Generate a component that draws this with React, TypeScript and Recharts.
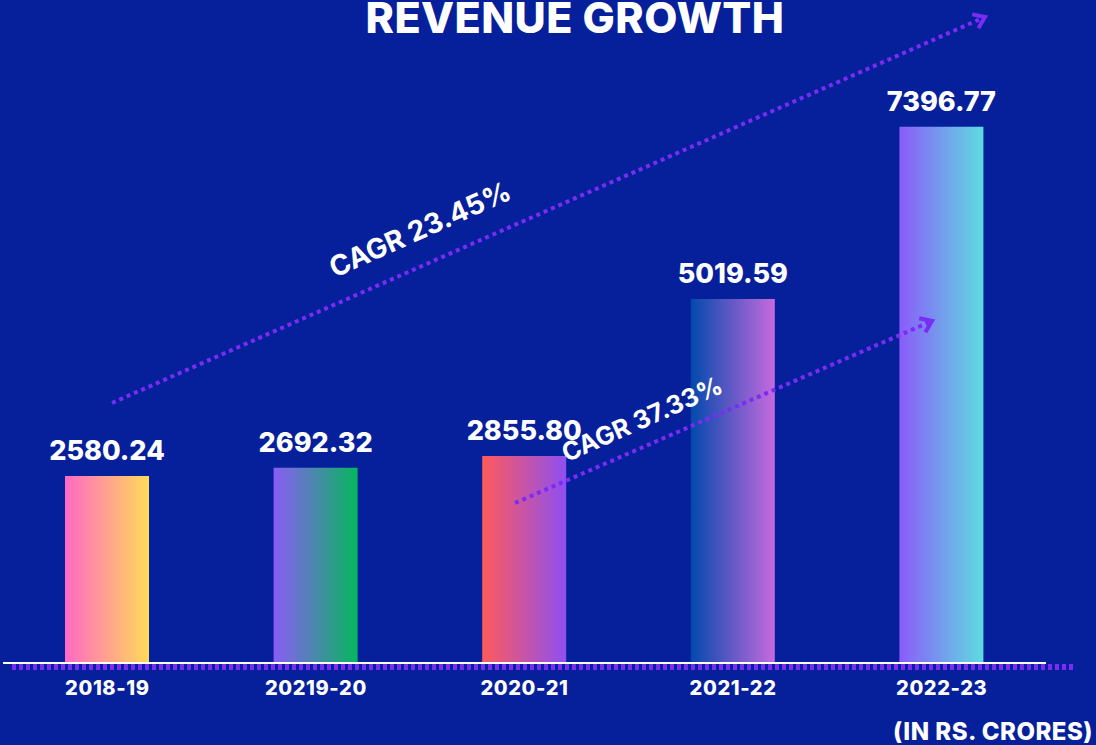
import { BarChart, Bar, XAxis, YAxis, Cell, LabelList } from 'recharts'

const years = ['2018-19', '20219-20', '2020-21', '2021-22', '2022-23']
const revenue = [2580.24, 2692.32, 2855.8, 5019.59, 7396.77]

// left → right colour stops of each bar
const gradFrom = ['#ff69c4', '#8b5cf6', '#ff5a5a', '#0349ad', '#8a5cfa']
const gradTo = ['#ffdb58', '#05b75d', '#8e4ff2', '#c66ade', '#5edce0']

const cagrLabels = ['CAGR 23.45%', 'CAGR 37.33%']

const BG = '#05209a'
const ARROW = '#7b2cf3'
const FONT = 'Inter, "Open Sans", sans-serif'

const data = years.map((year, i) => ({ year, value: revenue[i] }))

function Arrow({ x1, y1, x2, y2 }: { x1: number; y1: number; x2: number; y2: number }) {
  const a = Math.atan2(y2 - y1, x2 - x1)
  const len = 13
  const p1 = [x2 - len * Math.cos(a - 0.62), y2 - len * Math.sin(a - 0.62)]
  const p2 = [x2 - len * Math.cos(a + 0.62), y2 - len * Math.sin(a + 0.62)]
  return (
    <g>
      <line x1={x1} y1={y1} x2={x2 - 4 * Math.cos(a)} y2={y2 - 4 * Math.sin(a)} stroke={ARROW} strokeWidth={4} strokeDasharray="4 4" />
      <polyline points={`${p1[0]},${p1[1]} ${x2},${y2} ${p2[0]},${p2[1]}`} fill="none" stroke={ARROW} strokeWidth={4} strokeLinejoin="miter" />
    </g>
  )
}

export default function App() {
  return (
    <div style={{ position: 'absolute', left: 0, top: 0, width: 1096, height: 745, background: BG, overflow: 'hidden', fontFamily: FONT }}>
      <BarChart width={1096} height={745} data={data} margin={{ top: 83, right: 50, bottom: 52, left: 3 }}>
        <defs>
          {gradFrom.map((c, i) => (
            <linearGradient key={i} id={`bar-${i}`} x1="0" y1="0" x2="1" y2="0">
              <stop offset="0%" stopColor={c} />
              <stop offset="100%" stopColor={gradTo[i]} />
            </linearGradient>
          ))}
        </defs>
        <XAxis
          dataKey="year"
          axisLine={{ stroke: '#ffffff', strokeWidth: 2 }}
          tickLine={false}
          tickMargin={12}
          tick={{ fill: '#ffffff', fontSize: 20, fontWeight: 800, fontFamily: FONT, letterSpacing: 0.6 }}
        />
        <YAxis hide domain={[0, 8000]} />
        <Bar dataKey="value" barSize={84} isAnimationActive={false}>
          {data.map((_, i) => (
            <Cell key={`cell-${i}`} fill={`url(#bar-${i})`} />
          ))}
          <LabelList
            dataKey="value"
            position="top"
            offset={16}
            formatter={(v: any) => Number(v).toFixed(2)}
            style={{ fill: '#ffffff', fontSize: 27, fontWeight: 800, fontFamily: FONT }}
          />
        </Bar>
      </BarChart>

      <svg width={1096} height={745} style={{ position: 'absolute', left: 0, top: 0, pointerEvents: 'none' }}>
        <text x={575} y={33} textAnchor="middle" fill="#ffffff" fontSize={43} fontWeight={800} fontFamily={FONT} letterSpacing={0.4}>
          REVENUE GROWTH
        </text>
        <line x1={12} y1={667} x2={1076} y2={667} stroke={ARROW} strokeWidth={6} strokeDasharray="4 3" />
        <Arrow x1={112} y1={403} x2={985} y2={17} />
        <Arrow x1={515} y1={503} x2={932} y2={321} />
        <text x={420} y={239} textAnchor="middle" fill="#ffffff" fontSize={28} fontWeight={700} fontFamily={FONT} transform="rotate(-24 420 229)">
          {cagrLabels[0]}
        </text>
        <text x={642} y={428} textAnchor="middle" fill="#ffffff" fontSize={25.5} fontWeight={700} fontFamily={FONT} transform="rotate(-24 642 419)">
          {cagrLabels[1]}
        </text>
        <text x={1093} y={740} textAnchor="end" fill="#ffffff" fontSize={24} fontWeight={800} fontFamily={FONT} letterSpacing={0.5}>
          (IN RS. CRORES)
        </text>
      </svg>
    </div>
  )
}
